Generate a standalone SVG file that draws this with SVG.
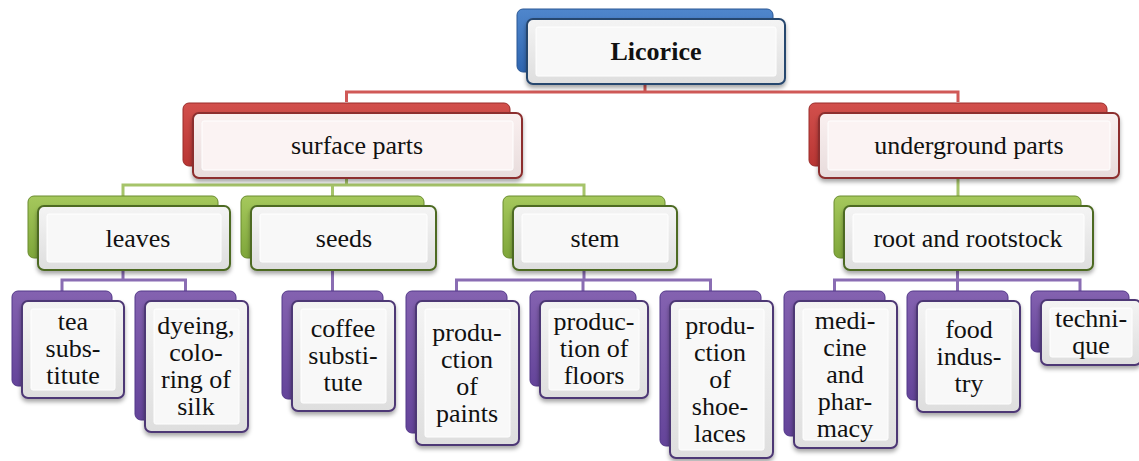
<svg xmlns="http://www.w3.org/2000/svg" width="1139" height="461" viewBox="0 0 1139 461">
<defs>
  <linearGradient id="gBlue" x1="0" y1="0" x2="0" y2="1"><stop offset="0" stop-color="#4f86cc"/><stop offset="1" stop-color="#2f66b0"/></linearGradient>
  <linearGradient id="gRed" x1="0" y1="0" x2="0" y2="1"><stop offset="0" stop-color="#d2504c"/><stop offset="1" stop-color="#b93533"/></linearGradient>
  <linearGradient id="gGreen" x1="0" y1="0" x2="0" y2="1"><stop offset="0" stop-color="#a5c85c"/><stop offset="1" stop-color="#7fa63a"/></linearGradient>
  <linearGradient id="gPurple" x1="0" y1="0" x2="0" y2="1"><stop offset="0" stop-color="#8462b0"/><stop offset="1" stop-color="#64449a"/></linearGradient>
  <linearGradient id="fNeutral" x1="0" y1="0" x2="0" y2="1"><stop offset="0" stop-color="#f4f4f4"/><stop offset="1" stop-color="#dedede"/></linearGradient>
  <linearGradient id="fPink" x1="0" y1="0" x2="0" y2="1"><stop offset="0" stop-color="#faf0f0"/><stop offset="1" stop-color="#e8dcdc"/></linearGradient>
  <filter id="sh" x="-10%" y="-10%" width="120%" height="130%">
    <feDropShadow dx="0" dy="3" stdDeviation="2" flood-color="#000" flood-opacity="0.35"/>
  </filter>
  <style>
    .back{rx:6px;}
    .b-blue{fill:url(#gBlue);stroke:#2a5794;stroke-width:1}
    .b-red{fill:url(#gRed);stroke:#9a2c2a;stroke-width:1}
    .b-green{fill:url(#gGreen);stroke:#6a8c2e;stroke-width:1}
    .b-purple{fill:url(#gPurple);stroke:#533889;stroke-width:1}
    .front{rx:6px;stroke-width:2;filter:url(#sh)}
    .f-blue{fill:url(#fNeutral);stroke:#27466e}
    .f-red{fill:url(#fPink);stroke:#8c2f2d}
    .f-green{fill:url(#fNeutral);stroke:#4d6a24}
    .f-purple{fill:url(#fNeutral);stroke:#4e3775}
    .inner{rx:2px;fill:#f8f8f8;stroke:#ffffff;stroke-width:1}
    .inner-red{rx:2px;fill:#fbf3f3;stroke:#ffffff;stroke-width:1}
    .lbl{font-family:"Liberation Serif","Times New Roman",serif;font-size:26px;fill:#111;text-anchor:middle}
    .bold{font-weight:bold}
    .c{fill:none;stroke-width:3;stroke-linejoin:miter}
    .c-red{stroke:#d05957}
    .c-green{stroke:#a6c46a}
    .c-purple{stroke:#8a6db3}
  </style>
</defs>
<rect width="1139" height="461" fill="#ffffff"/>

<g id="connectors">
  <path class="c c-red" d="M645 84 V92 M346.5 102 V92 H958 V102"/>
  <path class="c c-green" d="M346.5 178 V185 M123 196 V185 H584 V196 M332.5 185 V196 M958 178 V196"/>
  <path class="c c-purple" d="M123 270 V280 M62 291 V280 H185.5 V291"/>
  <path class="c c-purple" d="M332.5 270 V291"/>
  <path class="c c-purple" d="M584 270 V280 M456.5 291 V280 H710.5 V291 M583 280 V291"/>
  <path class="c c-purple" d="M957.5 270 V280 M834.5 291 V280 H1080 V291 M957.5 280 V291"/>
</g>

<g id="node-licorice">
  <rect class="back b-blue" x="517" y="9" width="256" height="63"/>
  <rect class="front f-blue" x="527" y="19" width="258" height="65"/>
  <rect class="inner" x="536" y="27" width="240" height="49"/>
  <text class="lbl bold" x="656" y="60">Licorice</text>
</g>

<g id="node-surface">
  <rect class="back b-red" x="183" y="103" width="327" height="63"/>
  <rect class="front f-red" x="193" y="113" width="329" height="65"/>
  <rect class="inner-red" x="202" y="121" width="311" height="49"/>
  <text class="lbl" x="357" y="154">surface parts</text>
</g>

<g id="node-underground">
  <rect class="back b-red" x="809" y="103" width="298" height="63"/>
  <rect class="front f-red" x="819" y="113" width="300" height="65"/>
  <rect class="inner-red" x="828" y="121" width="282" height="49"/>
  <text class="lbl" x="969" y="154">underground parts</text>
</g>

<g id="node-leaves">
  <rect class="back b-green" x="28" y="196" width="190" height="62"/>
  <rect class="front f-green" x="38" y="206" width="192" height="64"/>
  <rect class="inner" x="47" y="214" width="174" height="48"/>
  <text class="lbl" x="138" y="247">leaves</text>
</g>

<g id="node-seeds">
  <rect class="back b-green" x="241" y="196" width="183" height="62"/>
  <rect class="front f-green" x="251" y="206" width="185" height="64"/>
  <rect class="inner" x="260" y="214" width="167" height="48"/>
  <text class="lbl" x="344" y="247">seeds</text>
</g>

<g id="node-stem">
  <rect class="back b-green" x="503" y="196" width="162" height="62"/>
  <rect class="front f-green" x="513" y="206" width="164" height="64"/>
  <rect class="inner" x="522" y="214" width="146" height="48"/>
  <text class="lbl" x="595" y="247">stem</text>
</g>

<g id="node-root">
  <rect class="back b-green" x="834" y="196" width="247" height="62"/>
  <rect class="front f-green" x="844" y="206" width="249" height="64"/>
  <rect class="inner" x="853" y="214" width="231" height="48"/>
  <text class="lbl" x="968" y="247">root and rootstock</text>
</g>

<g id="node-tea">
  <rect class="back b-purple" x="12" y="291" width="100" height="95"/>
  <rect class="front f-purple" x="22" y="301" width="102" height="97"/>
  <rect class="inner" x="31" y="309" width="84" height="81"/>
  <text class="lbl" x="73"><tspan x="73" y="330">tea</tspan><tspan x="73" y="357">subs-</tspan><tspan x="73" y="384">titute</tspan></text>
</g>

<g id="node-dyeing">
  <rect class="back b-purple" x="135" y="291" width="101" height="129"/>
  <rect class="front f-purple" x="145" y="301" width="103" height="131"/>
  <rect class="inner" x="154" y="309" width="85" height="115"/>
  <text class="lbl" x="196"><tspan x="196" y="334">dyeing,</tspan><tspan x="196" y="361">colo-</tspan><tspan x="196" y="388">ring of</tspan><tspan x="196" y="415">silk</tspan></text>
</g>

<g id="node-coffee">
  <rect class="back b-purple" x="282" y="291" width="101" height="108"/>
  <rect class="front f-purple" x="292" y="301" width="103" height="110"/>
  <rect class="inner" x="301" y="309" width="85" height="94"/>
  <text class="lbl" x="343"><tspan x="343" y="337">coffee</tspan><tspan x="343" y="364">substi-</tspan><tspan x="343" y="391">tute</tspan></text>
</g>

<g id="node-paints">
  <rect class="back b-purple" x="406" y="291" width="101" height="142"/>
  <rect class="front f-purple" x="416" y="301" width="103" height="144"/>
  <rect class="inner" x="425" y="309" width="85" height="128"/>
  <text class="lbl" x="467"><tspan x="467" y="341">produ-</tspan><tspan x="467" y="368">ction</tspan><tspan x="467" y="395">of</tspan><tspan x="467" y="422">paints</tspan></text>
</g>

<g id="node-floors">
  <rect class="back b-purple" x="530" y="291" width="106" height="95"/>
  <rect class="front f-purple" x="540" y="301" width="108" height="97"/>
  <rect class="inner" x="549" y="309" width="90" height="81"/>
  <text class="lbl" x="594"><tspan x="594" y="330">produc-</tspan><tspan x="594" y="357">tion of</tspan><tspan x="594" y="384">floors</tspan></text>
</g>

<g id="node-shoelaces">
  <rect class="back b-purple" x="660" y="291" width="101" height="155"/>
  <rect class="front f-purple" x="670" y="301" width="103" height="157"/>
  <rect class="inner" x="679" y="309" width="85" height="141"/>
  <text class="lbl" x="720"><tspan x="720" y="334">produ-</tspan><tspan x="720" y="361">ction</tspan><tspan x="720" y="388">of</tspan><tspan x="720" y="415">shoe-</tspan><tspan x="720" y="442">laces</tspan></text>
</g>

<g id="node-medicine">
  <rect class="back b-purple" x="784" y="291" width="101" height="145"/>
  <rect class="front f-purple" x="794" y="301" width="103" height="147"/>
  <rect class="inner" x="803" y="309" width="85" height="131"/>
  <text class="lbl" x="845"><tspan x="845" y="329">medi-</tspan><tspan x="845" y="356">cine</tspan><tspan x="845" y="383">and</tspan><tspan x="845" y="410">phar-</tspan><tspan x="845" y="437">macy</tspan></text>
</g>

<g id="node-food">
  <rect class="back b-purple" x="907" y="291" width="101" height="109"/>
  <rect class="front f-purple" x="917" y="301" width="103" height="111"/>
  <rect class="inner" x="926" y="309" width="85" height="95"/>
  <text class="lbl" x="969"><tspan x="969" y="338">food</tspan><tspan x="969" y="365">indus-</tspan><tspan x="969" y="392">try</tspan></text>
</g>

<g id="node-technique">
  <rect class="back b-purple" x="1031" y="291" width="98" height="61"/>
  <rect class="front f-purple" x="1041" y="300" width="100" height="65"/>
  <rect class="inner" x="1050" y="308" width="82" height="49"/>
  <text class="lbl" x="1091"><tspan x="1091" y="327">techni-</tspan><tspan x="1091" y="354">que</tspan></text>
</g>
</svg>
